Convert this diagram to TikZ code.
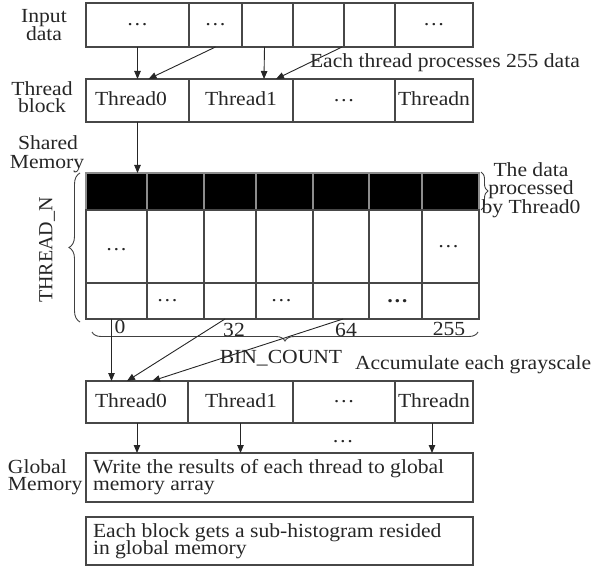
\documentclass[tikz,border=0pt]{standalone}
\usepackage{fontspec}
\setmainfont{Liberation Serif}[FakeStretch=1.08]
\newfontfamily\plainserif{Liberation Serif}
\usetikzlibrary{arrows.meta,calc,decorations.pathreplacing}
\begin{document}
\begin{tikzpicture}[x=1pt,y=-1pt,
  cell/.style={draw=black!72, line width=1.2pt, inner sep=0pt, outer sep=0pt, anchor=north west, font=\fontsize{20}{18}\selectfont, text=black!85},
  txt/.style={inner sep=0pt, outer sep=0pt, font=\fontsize{20}{18}\selectfont, text=black!85},
  arr/.style={draw=black!85, line width=0.9pt, -{Triangle[length=8pt,width=6.5pt]}},
  brc/.style={draw=black!75, line width=0.9pt, decorate, decoration={brace, amplitude=#1}},
]
\useasboundingbox (0,0) rectangle (592,567);

% ---- Input data row
\node[cell, minimum width=103pt, minimum height=44pt] (in1) at (86,3) {…};
\node[cell, minimum width=53pt, minimum height=44pt] (in2) at (189,3) {…};
\node[cell, minimum width=51pt, minimum height=44pt] (in3) at (242,3) {};
\node[cell, minimum width=51pt, minimum height=44pt] (in4) at (293,3) {};
\node[cell, minimum width=51pt, minimum height=44pt] (in5) at (344,3) {};
\node[cell, minimum width=78pt, minimum height=44pt] (in6) at (395,3) {…};
\node[txt, anchor=base] (lin1) at (44,23) {Input};
\node[txt, anchor=base] (lin2) at (44,41) {data};

% ---- Thread block row
\node[cell, minimum width=103pt, minimum height=43pt] (tb0) at (86,79) {};
\node[cell, minimum width=104pt, minimum height=43pt] (tb1) at (189,79) {};
\node[cell, minimum width=102pt, minimum height=43pt] (tb2) at (293,79) {…};
\node[cell, minimum width=78pt, minimum height=43pt] (tbn) at (395,79) {};
\node[txt, anchor=base] (tb0t) at (131,106) {Thread0};
\node[txt, anchor=base] (tb1t) at (241,106) {Thread1};
\node[txt, anchor=base] (tbnt) at (434,106) {Threadn};
\node[txt, anchor=base] (ltb1) at (42,96) {Thread};
\node[txt, anchor=base] (ltb2) at (42,113) {block};

% arrows input -> thread block
\draw[arr] (in1.south) -- (tb0.north);
\draw[arr] (in2.south) -- ($(tb0.north)+(11,0)$);
\draw[arr] ($(in3.south)+(-3,0)$) -- ($(tb1.north)+(23,0)$);
\draw[arr] ($(in4.south east)+(-2,0)$) -- ($(tb1.north)+(35,0)$);
\node[txt, anchor=base west] (each) at (310,68) {Each thread processes 255 data};

% ---- Shared memory grid
\foreach \c/\x/\w in {1/86/61,2/147/57,3/204/52,4/256/57,5/313/56,6/369/53,7/422/57} {
  \node[cell, fill=black, draw=black!45, minimum width=\w pt, minimum height=37pt] (g1\c) at (\x,173) {};
  \node[cell, minimum width=\w pt, minimum height=73pt] (g2\c) at (\x,210) {};
  \node[cell, minimum width=\w pt, minimum height=36pt] (g3\c) at (\x,283) {};
}
\node[txt] (d21) at ($(g21.center)+(0,3)$) {…};
\node[txt] (d27) at ($(g27.center)+(-2,0)$) {…};
\node[txt] (d32) at ($(g32.center)+(-8,0)$) {…};
\node[txt] (d34) at ($(g34.center)+(-3,0)$) {…};
\node[txt] (d36) at ($(g36.center)+(2,0)$) {\bfseries …};

\draw[arr] (tb0.south) -- (tb0.south |- g11.north);
\node[txt, anchor=base] (lsm1) at (48,150) {Shared};
\node[txt, anchor=base] (lsm2) at (47,168) {Memory};

% braces
\draw[brc=11] ($(g31.south west)+(-6,3)$) -- ($(g11.north west)+(-6,0)$);
\node[txt, rotate=90, font=\plainserif\fontsize{20}{18}\selectfont] (thn) at (47,250) {THREAD\_N};
\draw[brc=7] ($(g17.north east)+(2,-1)$) -- ($(g17.south east)+(2,0)$);
\node[txt, anchor=base] (pd1) at (531,177) {The data};
\node[txt, anchor=base] (pd2) at (531,195) {processed};
\node[txt, anchor=base] (pd3) at (531,213) {by Thread0};

\draw[brc=9] ($(g37.south east)+(-1,13)$) -- ($(g31.south west)+(6,13)$);
\node[txt, anchor=base] (n0) at (120,333) {0};
\node[txt, anchor=base] (n32) at (234,336) {32};
\node[txt, anchor=base] (n64) at (346,336) {64};
\node[txt, anchor=base] (n255) at (449,335) {255};
\node[txt, anchor=base] (bin) at (281,363) {BIN\_COUNT};
\node[txt, anchor=base west] (acc) at (355,369) {Accumulate each grayscale};

% ---- bottom thread row
\node[cell, minimum width=102pt, minimum height=42pt] (bt0) at (86,381) {};
\node[cell, minimum width=105pt, minimum height=42pt] (bt1) at (188,381) {};
\node[cell, minimum width=102pt, minimum height=42pt] (bt2) at (293,381) {…};
\node[cell, minimum width=78pt, minimum height=42pt] (btn) at (395,381) {};
\node[txt, anchor=base] (bt0t) at (131,407) {Thread0};
\node[txt, anchor=base] (bt1t) at (241,407) {Thread1};
\node[txt, anchor=base] (btnt) at (434,407) {Threadn};

% arrows grid -> bottom thread0
\coordinate (s0) at ($(g31.south)+(-5,0)$);
\draw[arr] (s0) -- (s0 |- bt0.north);
\draw[arr] ($(g33.south)+(-5,0)$) -- ($(bt0.north)+(-10,0)$);
\draw[arr] ($(g35.south)+(2,0)$) -- ($(bt0.north)+(15,0)$);

% ---- global memory
\node[cell, minimum width=387pt, minimum height=49pt] (gm) at (86,453) {};
\node[txt, anchor=base west] (gm1) at (93,473) {Write the results of each thread to global};
\node[txt, anchor=base west] (gm2) at (93,490) {memory array};
\node[txt, anchor=base west] (lg1) at (8,473) {Global};
\node[txt, anchor=base west] (lg2) at (8,490) {Memory};

\draw[arr] (bt0.south) -- (bt0.south |- gm.north);
\draw[arr] (bt1.south) -- (bt1.south |- gm.north);
\coordinate (sn) at ($(btn.south)+(-2,0)$);
\draw[arr] (sn) -- (sn |- gm.north);
\node[txt] (dm) at (343,442) {…};

% ---- last box
\node[cell, minimum width=387pt, minimum height=48pt] (lb) at (86,517) {};
\node[txt, anchor=base west] (lb1) at (93,537) {Each block gets a sub-histogram resided};
\node[txt, anchor=base west] (lb2) at (93,554) {in global memory};
\end{tikzpicture}
\end{document}
